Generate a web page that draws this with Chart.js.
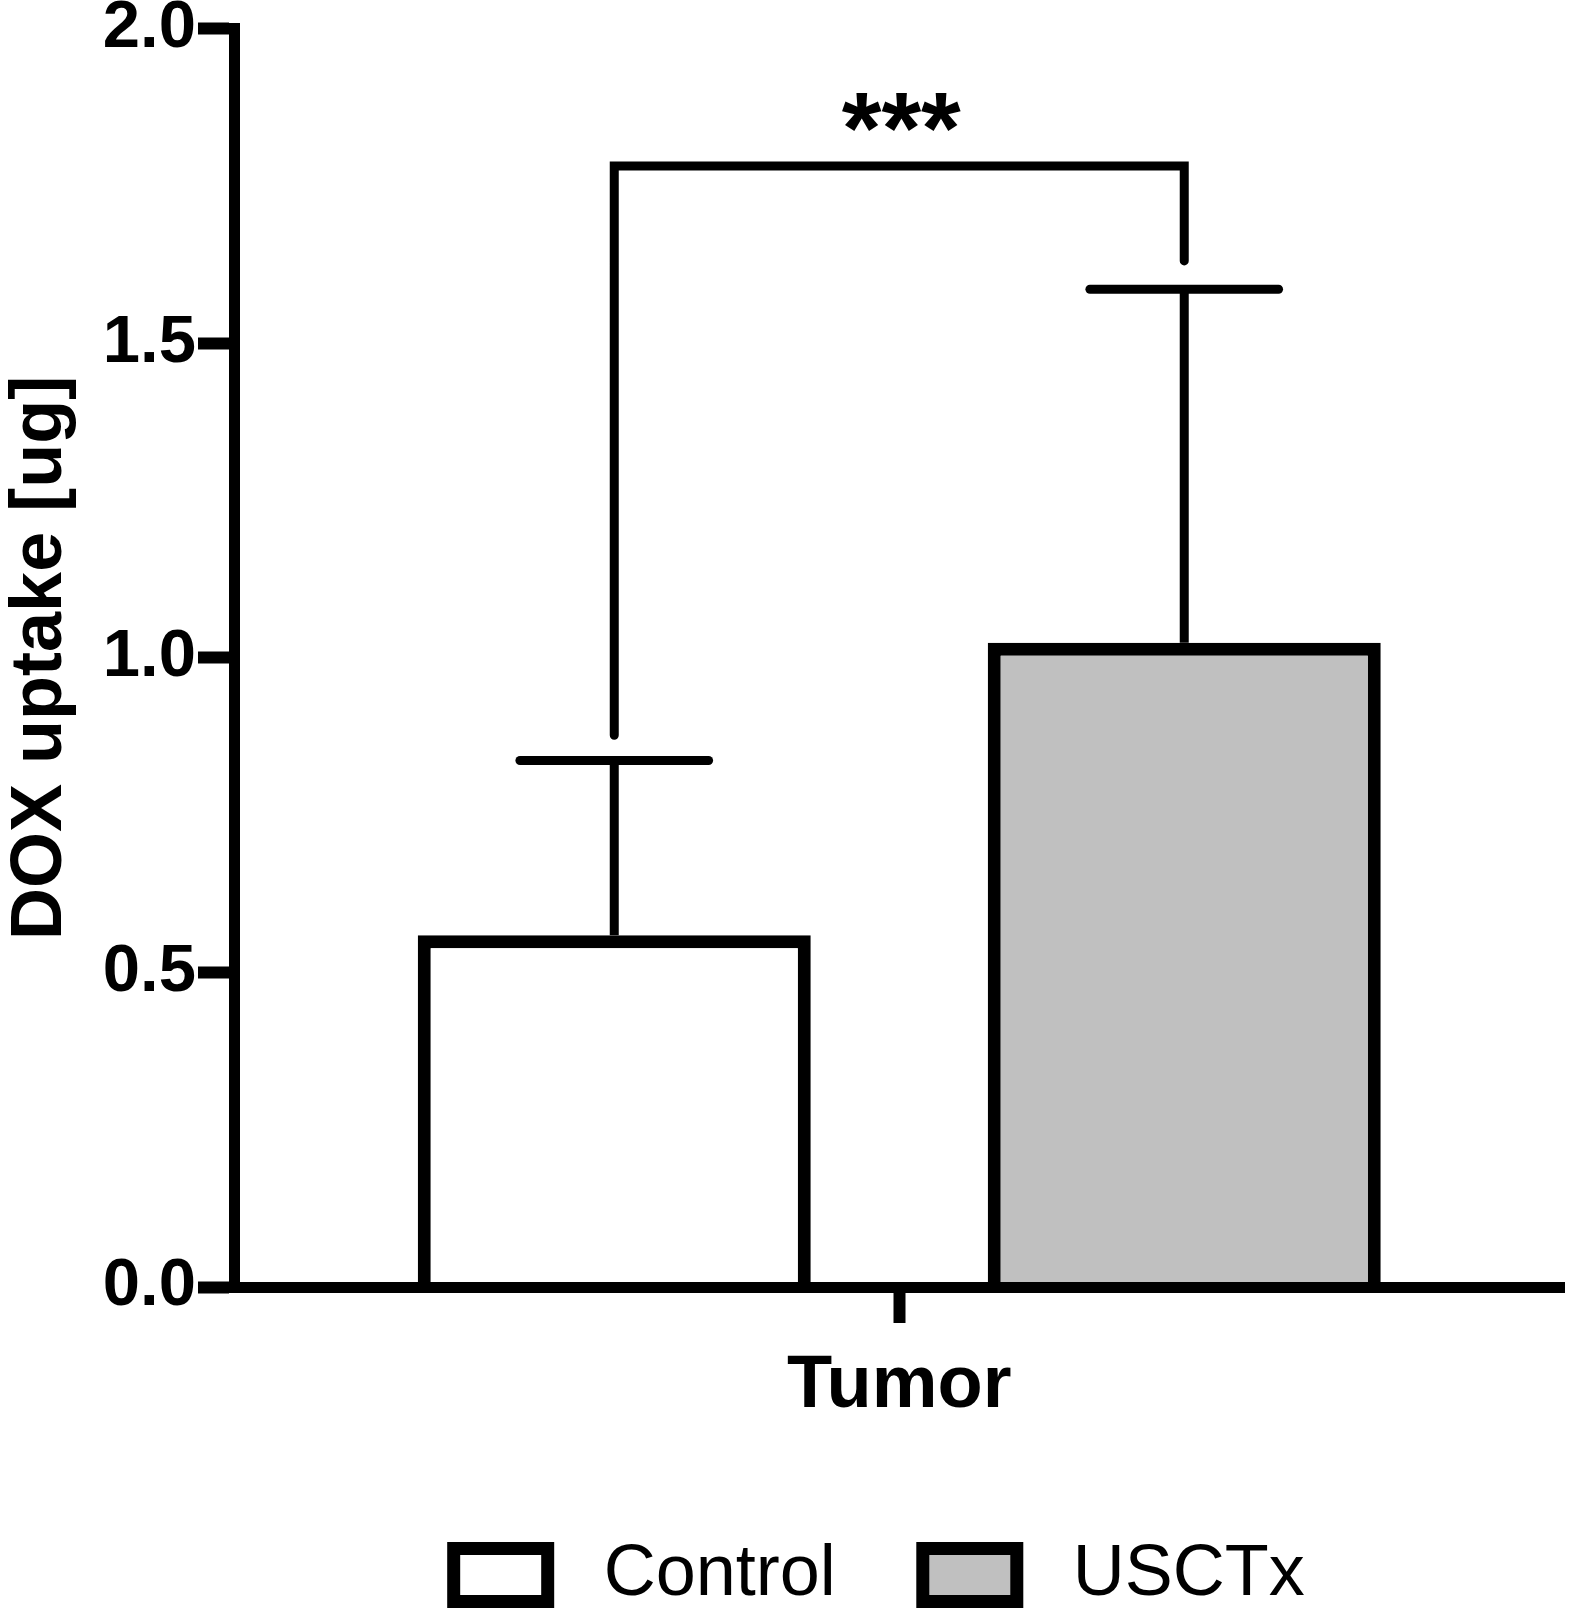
<!DOCTYPE html>
<html>
<head>
<meta charset="utf-8">
<script src="https://cdn.jsdelivr.net/npm/chart.js@4.4.0/dist/chart.umd.min.js"></script>
<style>
    html, body { margin: 0; padding: 0; background: #fff; }
    #wrap { width: 1575px; height: 1612px; }
</style>
</head>
<body>
<div id="wrap"><canvas id="chart" width="1575" height="1612"></canvas></div>
<script>
// values
const categories = ['Tumor'];
const groups = ['Control', 'USCTx'];
const means = [0.559, 1.024];
const sds = [0.278, 0.562];
const fills = ['#ffffff', '#c0c0c0'];
const yTicks = [0, 0.5, 1.0, 1.5, 2.0];
const sigHeight = 1.782;
const sigLegEnds = [0.877, 1.631];
const sigLabel = '***';

const FONT = "'Liberation Sans', Arial, Helvetica, sans-serif";

// error bars + significance bracket, drawn with the chart's own y scale
const errorBars = {
    id: 'errorBars',
    afterDatasetsDraw(chart) {
        const ctx = chart.ctx;
        const y = chart.scales.y;
        ctx.save();
        ctx.strokeStyle = '#000';
        ctx.lineWidth = 9;

        chart.data.datasets.forEach((ds, i) => {
            const bar = chart.getDatasetMeta(i).data[0];
            const top = y.getPixelForValue(means[i] + sds[i]);
            const half = bar.width * 0.24;
            ctx.lineCap = 'butt';
            ctx.beginPath();
            ctx.moveTo(bar.x, bar.y);
            ctx.lineTo(bar.x, top);
            ctx.stroke();
            ctx.lineCap = 'round';
            ctx.beginPath();
            ctx.moveTo(bar.x - half, top);
            ctx.lineTo(bar.x + half, top);
            ctx.stroke();
        });

        const a = chart.getDatasetMeta(0).data[0];
        const b = chart.getDatasetMeta(1).data[0];
        const yb = y.getPixelForValue(sigHeight);
        ctx.lineCap = 'round';
        ctx.lineJoin = 'miter';
        ctx.beginPath();
        ctx.moveTo(a.x, y.getPixelForValue(sigLegEnds[0]));
        ctx.lineTo(a.x, yb);
        ctx.lineTo(b.x, yb);
        ctx.lineTo(b.x, y.getPixelForValue(sigLegEnds[1]));
        ctx.stroke();

        ctx.fillStyle = '#000';
        ctx.font = 'bold 102px ' + FONT;
        ctx.textAlign = 'center';
        ctx.textBaseline = 'alphabetic';
        ctx.fillText(sigLabel, (a.x + b.x) / 2 + 2, yb - 3);
        ctx.restore();
    }
};

const ctx = document.getElementById('chart').getContext('2d');
const chart = new Chart(ctx, {
    type: 'bar',
    data: {
        labels: categories,
        datasets: groups.map((g, i) => ({
            label: g,
            data: [means[i]],
            backgroundColor: fills[i],
            borderColor: '#000',
            borderWidth: 13,
            categoryPercentage: 0.8568,
            barPercentage: 0.6895
        }))
    },
    options: {
        responsive: false,
        devicePixelRatio: 1,
        animation: false,
        events: [],
        layout: { padding: { top: 27, right: 10.5, bottom: -9, left: 0 } },
        plugins: {
            tooltip: { enabled: false },
            legend: {
                position: 'bottom',
                fullSize: false,
                labels: {
                    boxWidth: 94,
                    boxHeight: 53,
                    padding: 87,
                    color: '#000',
                    font: { family: FONT, size: 72 },
                    generateLabels(chart) {
                        const items = Chart.defaults.plugins.legend.labels.generateLabels(chart);
                        // spacing tweaks so the legend sits where the original has it
                        return items.map((it, i) => Object.assign(it, {
                            text: ' ' + it.text + (i === items.length - 1 ? '  ' : '')
                        }));
                    }
                }
            }
        },
        scales: {
            x: {
                offset: true,
                afterFit: s => { s.height = 165; },
                border: { display: true, color: '#000', width: 11, z: 1 },
                grid: { display: true, offset: false, drawOnChartArea: false, tickLength: 36, tickWidth: 12, tickColor: '#000', color: '#000' },
                ticks: { color: '#000', padding: 19, font: { family: FONT, size: 74, weight: 'bold', lineHeight: 1.2 } }
            },
            y: {
                min: 0,
                max: 2,
                afterBuildTicks: s => { s.ticks = yTicks.map(v => ({ value: v })); },
                afterFit: s => { s.width = 234; },
                border: { display: true, color: '#000', width: 11, z: 1 },
                grid: { display: true, drawOnChartArea: false, tickLength: 36, tickWidth: 12, tickColor: '#000', color: '#000' },
                ticks: {
                    color: '#000',
                    padding: 2,
                    font: { family: FONT, size: 67, weight: 'bold', lineHeight: 0.8 },
                    callback: v => Number(v).toFixed(1)
                },
                title: {
                    display: true,
                    text: 'DOX uptake [ug]',
                    color: '#000',
                    font: { family: FONT, size: 72, weight: 'bold', lineHeight: 1 },
                    padding: { top: 5, bottom: 0 }
                }
            }
        }
    },
    plugins: [errorBars]
});
</script>
</body>
</html>
